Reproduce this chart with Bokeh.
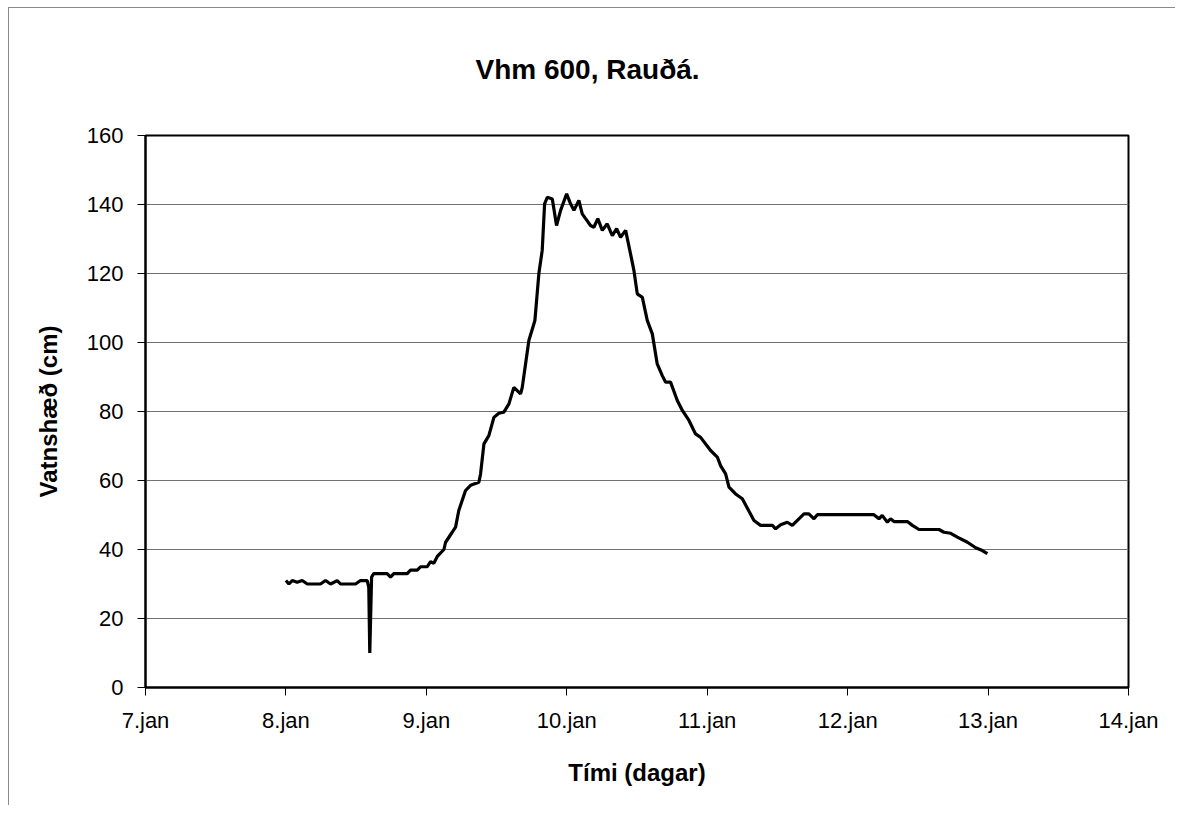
from bokeh.plotting import figure
from bokeh.models import FixedTicker, Range1d
from bokeh.embed import file_html
from bokeh.resources import INLINE

# time in days (January), water level in cm
days = [8.000, 8.021, 8.045, 8.080, 8.116, 8.152, 8.246, 8.282, 8.318, 8.365,
        8.389, 8.496, 8.531, 8.555, 8.579, 8.590, 8.597, 8.610, 8.625, 8.721,
        8.745, 8.768, 8.864, 8.887, 8.935, 8.959, 9.006, 9.030, 9.053, 9.078,
        9.125, 9.137, 9.184, 9.208, 9.231, 9.279, 9.315, 9.374, 9.386, 9.410,
        9.445, 9.481, 9.516, 9.552, 9.588, 9.623, 9.671, 9.683, 9.730, 9.773,
        9.801, 9.825, 9.842, 9.861, 9.897, 9.927, 9.956, 9.999, 10.027, 10.051,
        10.086, 10.110, 10.134, 10.169, 10.193, 10.221, 10.253, 10.288, 10.324, 10.355,
        10.383, 10.419, 10.454, 10.478, 10.502, 10.538, 10.573, 10.609, 10.644, 10.680,
        10.704, 10.739, 10.787, 10.823, 10.870, 10.917, 10.953, 11.024, 11.072, 11.095,
        11.131, 11.155, 11.202, 11.250, 11.333, 11.380, 11.464, 11.487, 11.523, 11.570,
        11.606, 11.653, 11.689, 11.724, 11.760, 11.784, 12.187, 12.223, 12.246, 12.283,
        12.305, 12.330, 12.425, 12.461, 12.508, 12.650, 12.686, 12.734, 12.781, 12.853,
        12.912, 12.959, 12.995]
level = [31.0, 30.0, 31.0, 30.5, 31.0, 30.0, 30.0, 31.0, 30.0, 31.0,
         30.0, 30.0, 31.0, 31.0, 31.0, 29.0, 10.0, 32.0, 33.0, 33.0,
         32.0, 33.0, 33.0, 34.0, 34.0, 35.0, 35.0, 36.5, 36.0, 38.0,
         40.0, 42.1, 45.0, 46.5, 51.3, 57.1, 58.6, 59.5, 61.9, 70.6,
         73.0, 78.3, 79.5, 79.8, 82.2, 87.0, 85.1, 87.0, 100.6, 106.4,
         119.9, 126.7, 140.2, 142.1, 141.6, 133.9, 138.3, 143.1, 140.2, 138.3,
         141.2, 137.3, 135.9, 133.9, 133.4, 135.9, 132.5, 134.4, 131.0, 133.0,
         130.5, 132.5, 125.7, 120.9, 114.1, 113.1, 106.4, 102.5, 93.8, 90.4,
         88.5, 88.5, 83.2, 80.3, 77.4, 73.5, 72.5, 68.7, 66.8, 64.3,
         61.9, 58.1, 56.1, 54.7, 48.4, 47.0, 47.0, 46.0, 47.2, 47.9,
         47.0, 48.9, 50.3, 50.3, 48.9, 50.1, 50.1, 48.9, 49.9, 47.9,
         48.9, 48.1, 48.1, 47.0, 45.8, 45.8, 45.0, 44.7, 43.6, 42.1,
         40.5, 39.7, 38.8]

x_ticks = [7, 8, 9, 10, 11, 12, 13, 14]
x_labels = ["7.jan", "8.jan", "9.jan", "10.jan", "11.jan", "12.jan", "13.jan", "14.jan"]
y_ticks = [0, 20, 40, 60, 80, 100, 120, 140, 160]
title_text = "Vhm 600, Rauðá."

FONT = "Liberation Sans"

p = figure(width=1175, height=805, output_backend="svg", toolbar_location=None,
           x_range=Range1d(7, 14), y_range=Range1d(0, 160),
           min_border_left=145, min_border_right=47, min_border_top=135,
           min_border_bottom=118, background_fill_color="white",
           border_fill_color="white", border_fill_alpha=0)
# thin outer chart-area border (left and top), drawn behind the transparent canvas border
p.styles = {
    "background": ("linear-gradient(#8a8a8a,#8a8a8a) 8px 7px / 1px 100% no-repeat, "
                   "linear-gradient(#8a8a8a,#8a8a8a) 8px 7px / 100% 1px no-repeat, white"),
}

p.title.text = title_text
p.title.text_font = FONT
p.title.text_font_size = "28px"
p.title.text_font_style = "bold"
p.title.text_color = "black"
p.title.vertical_align = "top"
p.title.align = "left"
p.title.offset = 330
p.title.standoff = 98

p.line(days, level, line_color="black", line_width=3.2)

p.outline_line_color = "black"
p.outline_line_width = 2

p.xgrid.grid_line_color = None
p.ygrid.grid_line_color = "#707070"
p.ygrid.grid_line_width = 1
p.ygrid.ticker = FixedTicker(ticks=y_ticks)

p.xaxis.ticker = FixedTicker(ticks=x_ticks)
p.xaxis.major_label_overrides = {t: l for t, l in zip(x_ticks, x_labels)}
p.yaxis.ticker = FixedTicker(ticks=y_ticks)

for ax in (p.xaxis, p.yaxis):
    ax.axis_line_color = "black"
    ax.axis_line_width = 2
    ax.major_tick_line_color = "black"
    ax.major_tick_line_width = 1
    ax.major_tick_out = 8
    ax.major_tick_in = 0
    ax.minor_tick_line_color = None
    ax.major_label_text_font = FONT
    ax.major_label_text_font_size = "22px"
    ax.major_label_text_color = "black"
    ax.axis_label_text_font = FONT
    ax.axis_label_text_font_size = "24px"
    ax.axis_label_text_font_style = "bold"
    ax.axis_label_text_color = "black"

p.xaxis.axis_label = "Tími (dagar)"
p.xaxis.major_label_standoff = 12
p.xaxis.axis_label_standoff = 23
p.yaxis.axis_label = "Vatnshæð (cm)"
p.yaxis.major_label_standoff = 14
p.yaxis.axis_label_standoff = 22

open("out.html", "w").write(file_html(p, INLINE))
